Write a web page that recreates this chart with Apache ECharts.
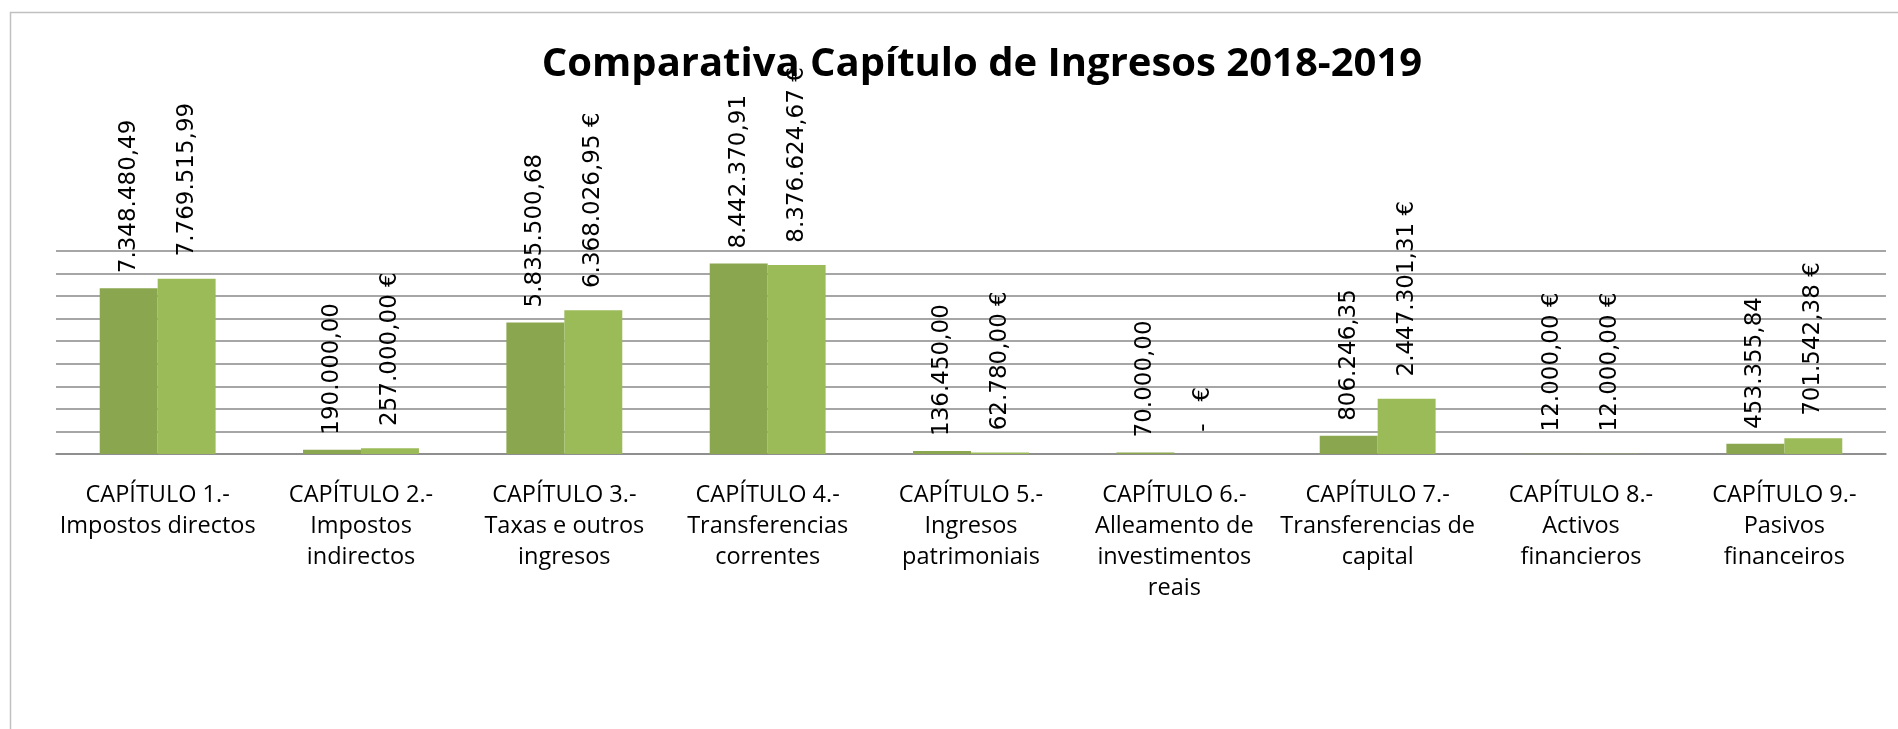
<!DOCTYPE html>
<html>
<head>
<meta charset="utf-8">
<title>Comparativa Capítulo de Ingresos 2018-2019</title>
<script src="https://cdn.jsdelivr.net/npm/echarts@6/dist/echarts.min.js"></script>
<style>
html, body { margin: 0; padding: 0; background: #fff; }
#chart { width: 1898px; height: 729px; }
</style>
</head>
<body>
<div id="chart"></div>
<script>
// datos
var categories = [
    'CAPÍTULO 1.-\nImpostos directos',
    'CAPÍTULO 2.-\nImpostos\nindirectos',
    'CAPÍTULO 3.-\nTaxas e outros\ningresos',
    'CAPÍTULO 4.-\nTransferencias\ncorrentes',
    'CAPÍTULO 5.-\nIngresos\npatrimoniais',
    'CAPÍTULO 6.-\nAlleamento de\ninvestimentos\nreais',
    'CAPÍTULO 7.-\nTransferencias de\ncapital',
    'CAPÍTULO 8.-\nActivos\nfinancieros',
    'CAPÍTULO 9.-\nPasivos\nfinanceiros'
];
var ingresos2018 = [7348480.49, 190000, 5835500.68, 8442370.91, 136450, 70000, 806246.35, 12000, 453355.84];
var ingresos2019 = [7769515.99, 257000, 6368026.95, 8376624.67, 62780, 0, 2447301.31, 12000, 701542.38];
var labels2018 = ['7.348.480,49', '190.000,00', '5.835.500,68', '8.442.370,91', '136.450,00', '70.000,00', '806.246,35', ' 12.000,00 €', '453.355,84'];
var labels2019 = [' 7.769.515,99', ' 257.000,00 €', ' 6.368.026,95 €', ' 8.376.624,67 €', ' 62.780,00 €', ' -   €', ' 2.447.301,31 €', ' 12.000,00 €', ' 701.542,38 €'];
var yMin = 0, yMax = 9000000, yStep = 1000000;

function barLabel(texts) {
    return {
        show: true, position: 'top', distance: 15, rotate: 90,
        align: 'left', verticalAlign: 'middle',
        fontFamily: 'DejaVu Sans', fontSize: 23, color: '#000',
        formatter: function (p) { return texts[p.dataIndex]; }
    };
}

var chart = echarts.init(document.getElementById('chart'));
chart.setOption({
    animation: false,
    title: {
        text: 'Comparativa Capítulo de Ingresos 2018-2019',
        left: 977,
        textAlign: 'center',
        top: 40,
        textStyle: { fontFamily: 'Open Sans', fontWeight: 'bold', fontSize: 40, color: '#000' }
    },
    grid: { left: 56, right: 12, top: 251, bottom: 275 },
    graphic: [{
        type: 'rect',
        shape: { x: 10.5, y: 12.5, width: 2000, height: 800 },
        style: { fill: 'none', stroke: '#c0c0c0', lineWidth: 1.5 },
        silent: true
    }],
    xAxis: {
        type: 'category',
        data: categories,
        axisLine: { lineStyle: { color: '#888', width: 1.5 } },
        axisTick: { show: false },
        axisLabel: { interval: 0, margin: 26, fontFamily: 'Open Sans', fontSize: 23.5, lineHeight: 31, color: '#000' }
    },
    yAxis: {
        type: 'value',
        min: yMin, max: yMax, interval: yStep,
        axisLabel: { show: false },
        axisLine: { show: false },
        axisTick: { show: false },
        splitLine: { lineStyle: { color: '#888', width: 1.5 } }
    },
    series: [{
        name: '2018',
        type: 'bar',
        data: ingresos2018,
        barGap: '0%',
        barCategoryGap: '43%',
        itemStyle: { color: '#8aa64f' },
        label: barLabel(labels2018)
    }, {
        name: '2019',
        type: 'bar',
        data: ingresos2019,
        itemStyle: { color: '#9bbb59' },
        label: barLabel(labels2019)
    }]
});
</script>
</body>
</html>
